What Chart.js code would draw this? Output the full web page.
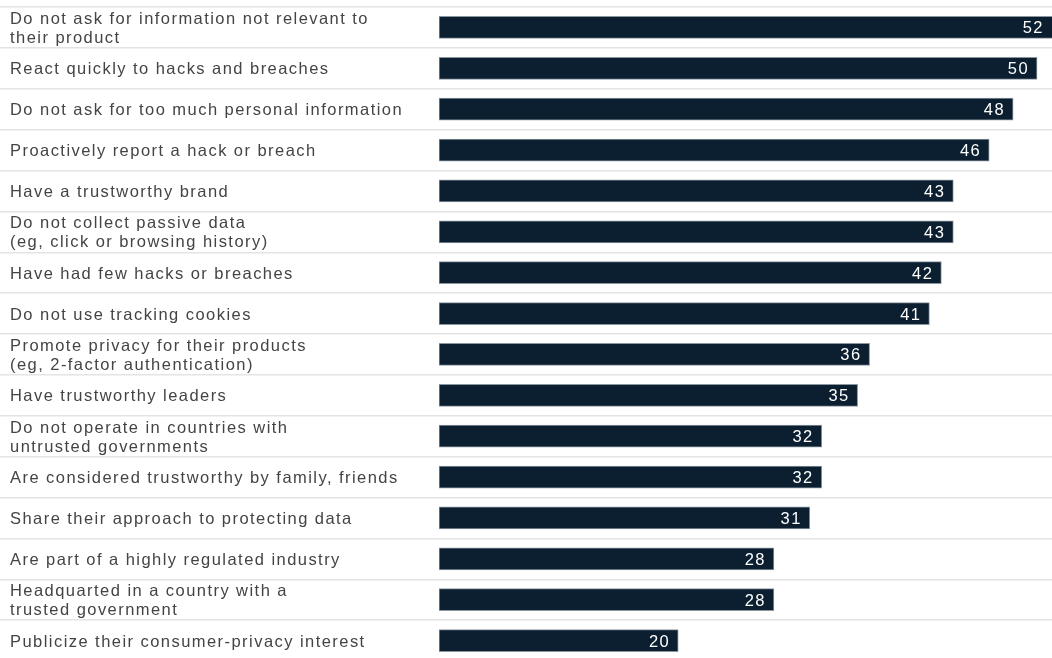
<!DOCTYPE html>
<html>
<head>
<meta charset="utf-8">
<script src="https://cdn.jsdelivr.net/npm/chart.js@4.4.1/dist/chart.umd.min.js"></script>
<style>
  html, body { margin: 0; padding: 0; background: #ffffff; overflow: hidden; }
  #wrap { position: relative; width: 1052px; height: 662px; }
</style>
</head>
<body>
<div id="wrap"><canvas id="barChart"></canvas></div>
<script>
// Données du graphique
const categories = [
    ['Do not ask for information not relevant to', 'their product'],
    'React quickly to hacks and breaches',
    'Do not ask for too much personal information',
    'Proactively report a hack or breach',
    'Have a trustworthy brand',
    ['Do not collect passive data', '(eg, click or browsing history)'],
    'Have had few hacks or breaches',
    'Do not use tracking cookies',
    ['Promote privacy for their products', '(eg, 2-factor authentication)'],
    'Have trustworthy leaders',
    ['Do not operate in countries with', 'untrusted governments'],
    'Are considered trustworthy by family, friends',
    'Share their approach to protecting data',
    'Are part of a highly regulated industry',
    ['Headquarted in a country with a', 'trusted government'],
    'Publicize their consumer-privacy interest'
];
const values = [52, 50, 48, 46, 43, 43, 42, 41, 36, 35, 32, 32, 31, 28, 28, 20];

const barColor = '#0b1f30';
const fontFamily = "'Liberation Sans', Arial, sans-serif";
const spacing = '1.45px';

// Espacement des lettres (le contexte est réinitialisé à chaque redimensionnement)
const letterSpacing = {
    id: 'letterSpacing',
    beforeDraw(chart) {
        chart.ctx.letterSpacing = spacing;
    }
};

// Plugin pour afficher les valeurs dans les barres
const valueLabels = {
    id: 'valueLabels',
    afterDatasetsDraw(chart) {
        const ctx = chart.ctx;
        const meta = chart.getDatasetMeta(0);
        const area = chart.chartArea;
        ctx.save();
        ctx.letterSpacing = spacing;
        ctx.fillStyle = '#ffffff';
        ctx.font = '16.5px ' + fontFamily;
        ctx.textAlign = 'right';
        ctx.textBaseline = 'middle';
        meta.data.forEach((bar, i) => {
            const x = Math.min(bar.x, area.right) - 8;
            ctx.fillText(String(values[i]), x, bar.y + 1.5);
        });
        ctx.restore();
    }
};

const ctx = document.getElementById('barChart').getContext('2d');
const barChart = new Chart(ctx, {
    type: 'bar',
    data: {
        labels: categories,
        datasets: [{
            data: values,
            backgroundColor: barColor,
            borderColor: '#8a96a0',
            borderWidth: 1,
            borderSkipped: false,
            barThickness: 22
        }]
    },
    options: {
        indexAxis: 'y',
        responsive: true,
        maintainAspectRatio: false,
        animation: false,
        layout: { padding: { left: 10, right: 0, top: 7, bottom: 1 } },
        plugins: {
            legend: { display: false },
            tooltip: { enabled: false }
        },
        scales: {
            x: {
                display: false,
                min: 0,
                max: 51.25
            },
            y: {
                afterFit(scale) {
                    scale.width = 429;
                    scale.paddingTop = 0;
                    scale.paddingBottom = 0;
                },
                border: { display: false },
                grid: {
                    offset: true,
                    color: '#e4e4e4',
                    lineWidth: 1.5,
                    drawTicks: true,
                    tickLength: 440
                },
                ticks: {
                    crossAlign: 'far',
                    color: '#444444',
                    font: { family: fontFamily, size: 16.5, lineHeight: 1.14 },
                    labelOffset: 1.5,
                    padding: 0
                }
            }
        }
    },
    plugins: [letterSpacing, valueLabels]
});
</script>
</body>
</html>
